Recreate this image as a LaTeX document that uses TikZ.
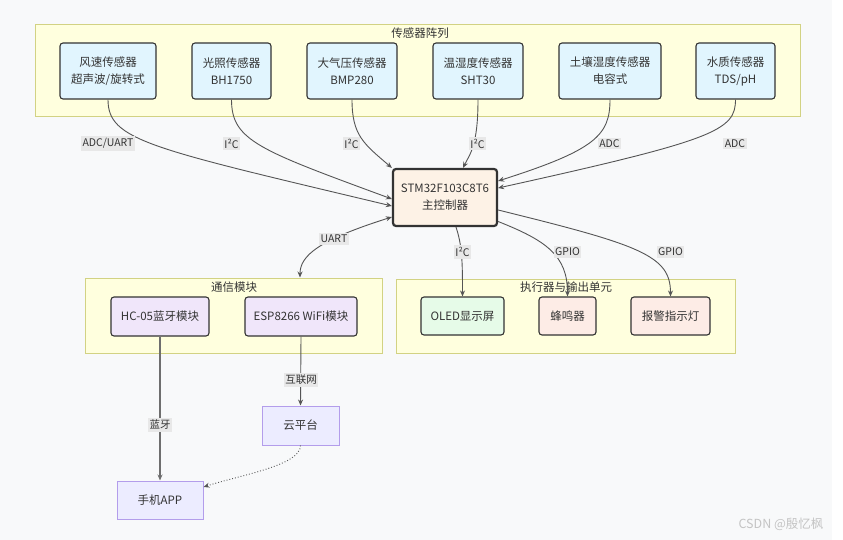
\documentclass[tikz,border=0pt]{standalone}
\usepackage{fontspec}
\setmainfont{Noto Sans CJK SC}
\usetikzlibrary{arrows.meta}
\definecolor{bgc}{HTML}{F8F9FA}
\definecolor{txt}{HTML}{333333}
\definecolor{clfill}{HTML}{FFFFDE}
\definecolor{cldraw}{HTML}{D2D283}
\definecolor{sensfill}{HTML}{E1F5FE}
\definecolor{mcufill}{HTML}{FDF2E6}
\definecolor{commfill}{HTML}{F0E6FA}
\definecolor{oledfill}{HTML}{E6FBE8}
\definecolor{alarmfill}{HTML}{FDECE6}
\definecolor{defill}{HTML}{ECECFF}
\definecolor{dedraw}{HTML}{B39DEB}
\definecolor{lblfill}{HTML}{E8E8E8}
\definecolor{edgec}{HTML}{555555}
\definecolor{wm}{HTML}{C4C4C4}
\begin{document}
\begin{tikzpicture}[x=1pt,y=-1pt,
  every node/.style={text=txt, font=\fontsize{11.5}{17}\selectfont, align=center, inner sep=0pt},
  cluster/.style={draw=cldraw, fill=clfill, line width=1pt},
  cltitle/.style={font=\fontsize{11.5}{14}\selectfont},
  sensor/.style={draw=txt, fill=sensfill, rounded corners=3pt, line width=1.1pt, minimum height=56pt},
  mcu/.style={draw=txt, fill=mcufill, rounded corners=3pt, line width=2.2pt, minimum height=57pt, minimum width=104pt},
  comm/.style={draw=txt, fill=commfill, rounded corners=3pt, line width=1.1pt, minimum height=39pt},
  oledbox/.style={draw=txt, fill=oledfill, rounded corners=3pt, line width=1.1pt, minimum height=38pt},
  alarm/.style={draw=txt, fill=alarmfill, rounded corners=3pt, line width=1.1pt, minimum height=38pt},
  plainbox/.style={draw=dedraw, fill=defill, line width=1pt, minimum height=39pt},
  lbl/.style={fill=lblfill, inner xsep=1.5pt, inner ysep=2pt, font=\fontsize{10.5}{12}\selectfont},
  conn/.style={draw=edgec, line width=0.9pt, -{Stealth[length=6pt,width=5pt]}},
]
\useasboundingbox (0,0) rectangle (843,540);
\fill[white] (0,0) rectangle (843,540);
\fill[bgc] (0,0) rectangle (832,540);

% clusters
\node[cluster, minimum width=765pt, minimum height=92pt] (sens) at (417.5,71) {};
\node[cltitle] (senst) at (420,33) {传感器阵列};
\node[cluster, minimum width=297pt, minimum height=75pt] (comms) at (233.5,315.5) {};
\node[cltitle] (commst) at (234,287) {通信模块};
\node[cluster, minimum width=339pt, minimum height=74pt] (act) at (565.5,316) {};
\node[cltitle] (actt) at (566,287) {执行器与输出单元};

% sensors
\node[sensor, minimum width=96pt] (s1) at (108,71) {风速传感器\\超声波/旋转式};
\node[sensor, minimum width=79pt] (s2) at (231.5,71) {光照传感器\\BH1750};
\node[sensor, minimum width=90pt] (s3) at (352,71) {大气压传感器\\BMP280};
\node[sensor, minimum width=90pt] (s4) at (478,71) {温湿度传感器\\SHT30};
\node[sensor, minimum width=102pt] (s5) at (610,71) {土壤湿度传感器\\电容式};
\node[sensor, minimum width=79pt] (s6) at (735.5,71) {水质传感器\\TDS/pH};

% controller
\node[mcu] (stm) at (445,197.5) {STM32F103C8T6\\主控制器};

% comm modules
\node[comm, minimum width=98pt] (hc) at (160,316.5) {HC-05蓝牙模块};
\node[comm, minimum width=112pt] (esp) at (301,316.5) {ESP8266 WiFi模块};

% actuators
\node[oledbox, minimum width=83pt] (oled) at (462.5,316) {OLED显示屏};
\node[alarm, minimum width=57pt] (buzz) at (567.5,316) {蜂鸣器};
\node[alarm, minimum width=79pt] (lamp) at (670.5,316) {报警指示灯};

% cloud / app
\node[plainbox, minimum width=77pt] (cloud) at (300.5,425.5) {云平台};
\node[plainbox, minimum width=86pt, minimum height=38pt] (app) at (160,500) {手机APP};

% sensor edges
\draw[conn] (s1.south) .. controls +(0,41) and +(-243,-58) .. ([yshift=-8.5pt]stm.west);
\draw[conn] (s2.south) .. controls +(0,41) and +(-133,-49) .. ([yshift=-1.5pt]stm.west);
\draw[conn] (s3.south) .. controls +(0,36) and +(-28,-24) .. (stm.north west);
\draw[conn] (s4.south) .. controls +(0,46) and +(7,-14) .. ([xshift=18pt]stm.north);
\draw[conn] (s5.south) .. controls +(0,36) and +(97,-31) .. ([yshift=16.5pt]stm.east);
\draw[conn] (s6.south) .. controls +(0,31) and +(217,-48) .. ([yshift=9.5pt]stm.east);

% outputs
\draw[conn, {Stealth[length=6pt,width=5pt]}-{Stealth[length=6pt,width=5pt]}] ([yshift=-19.5pt]stm.west) .. controls +(-73,23) and +(0,-22) .. ([xshift=66.5pt]comms.north);
\draw[conn] ([xshift=11pt]stm.south) .. controls +(6,18) and +(0,-36) .. (oled.north);
\draw[conn] ([yshift=-24pt]stm.east) .. controls +(48,19) and +(0,-41) .. (buzz.north);
\draw[conn] ([yshift=-12.5pt]stm.east) .. controls +(142,35) and +(0,-41) .. (lamp.north);

\draw[conn, line width=1.3pt, draw=edgec!85] (hc.south) -- (app.north);
\draw[conn] (esp.south) -- (cloud.north);
\draw[conn, dotted] (cloud.south) .. controls +(0,20) and +(37,-12) .. ([yshift=13pt]app.east);

% edge labels
\node[lbl] (l1) at (108,143.5) {ADC/UART};
\node[lbl] (l2) at (231.5,143.5) {I²C};
\node[lbl] (l3) at (351.5,143.5) {I²C};
\node[lbl] (l4) at (477.5,143.5) {I²C};
\node[lbl] (l5) at (609.5,143.5) {ADC};
\node[lbl] (l6) at (735,143.5) {ADC};
\node[lbl] (l7) at (334,239) {UART};
\node[lbl] (l8) at (462.5,252) {I²C};
\node[lbl] (l9) at (567.5,252) {GPIO};
\node[lbl] (l10) at (670.5,252) {GPIO};
\node[lbl] (l11) at (301,380) {互联网};
\node[lbl] (l12) at (160,425) {蓝牙};

% watermark
\node[text=wm, font=\fontsize{12.5}{14}\selectfont] (wmk) at (781,524) {CSDN @殷忆枫};
\end{tikzpicture}
\end{document}
